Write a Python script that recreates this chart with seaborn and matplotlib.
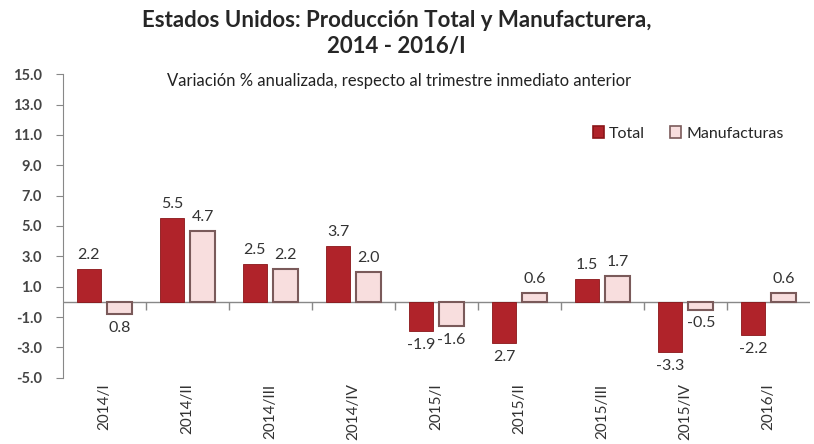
import matplotlib
matplotlib.use("Agg")
import matplotlib.pyplot as plt
import seaborn as sns
import pandas as pd

periodos = ['2014/I', '2014/II', '2014/III', '2014/IV', '2015/I',
            '2015/II', '2015/III', '2015/IV', '2016/I']
total = [2.2, 5.5, 2.5, 3.7, -1.9, -2.7, 1.5, -3.3, -2.2]
manufacturas = [-0.8, 4.7, 2.2, 2.0, -1.6, 0.6, 1.7, -0.5, 0.6]
etiq_total = ['2.2', '5.5', '2.5', '3.7', '-1.9', '2.7', '1.5', '-3.3', '-2.2']
etiq_manuf = ['0.8', '4.7', '2.2', '2.0', '-1.6', '0.6', '1.7', '-0.5', '0.6']

df = pd.DataFrame({
    'Periodo': periodos * 2,
    'Serie': ['Total'] * len(periodos) + ['Manufacturas'] * len(periodos),
    'Valor': total + manufacturas,
})

sns.set_style("white")
plt.rcParams['font.family'] = ['Lato', 'DejaVu Sans']

fig = plt.figure(figsize=(8.14, 4.44), dpi=100)
ax = fig.add_axes([0.077, 0.149, 0.918, 0.684])

sns.barplot(data=df, x='Periodo', y='Valor', hue='Serie',
            palette={'Total': '#b0232a', 'Manufacturas': '#f8dede'},
            width=0.74, gap=0.2, saturation=1, ax=ax, legend=True)

for i, p in enumerate(ax.patches[:2 * len(periodos)]):
    if i >= len(periodos):
        p.set_edgecolor('#7a5a5a')
        p.set_linewidth(1.5)
    else:
        p.set_edgecolor('#8a1518')
        p.set_linewidth(0.6)

etiquetas = etiq_total + etiq_manuf
valores = total + manufacturas
for p, txt, v in zip(ax.patches, etiquetas, valores):
    xc = p.get_x() + p.get_width() / 2
    if v >= 0:
        ax.annotate(txt, (xc, v), xytext=(0, 5), textcoords='offset points',
                    ha='center', va='bottom', fontsize=11.5, color='#333333')
    else:
        ax.annotate(txt, (xc, v), xytext=(0, -5), textcoords='offset points',
                    ha='center', va='top', fontsize=11.5, color='#333333')

ax.set_ylim(-5, 15)
ax.set_xlim(-0.5, len(periodos) - 0.5)
ax.set_yticks(range(-5, 16, 2))
ax.set_yticklabels([f"{t:.1f}" for t in range(-5, 16, 2)],
                   fontsize=10.5, fontweight='bold', color='#444444')
ax.tick_params(axis='y', direction='out', length=5, color='#888888',
               left=True, pad=10)
ax.set_xticks(range(len(periodos)))
ax.set_xticklabels(periodos, rotation=90, fontsize=11, color='#333333')
ax.tick_params(axis='x', length=0, pad=4)
ax.set_xlabel('')
ax.set_ylabel('')

for s in ['top', 'right', 'bottom']:
    ax.spines[s].set_visible(False)
ax.spines['left'].set_color('#888888')

ax.axhline(0, color='#888888', lw=1.0, zorder=0)
ax.vlines([i + 0.5 for i in range(len(periodos) - 1)], -0.5, 0,
          color='#888888', lw=1.0)

leg = ax.legend(loc='upper left', bbox_to_anchor=(0.69, 0.875), ncol=2,
                frameon=False, fontsize=11.5, handlelength=0.7,
                handleheight=0.7, columnspacing=1.6, handletextpad=0.3)
for h, ec in zip(leg.legend_handles, ['#8a1518', '#7a5a5a']):
    h.set_edgecolor(ec)
    h.set_linewidth(1.2)

fig.text(0.487, 0.953, 'Estados Unidos: Producción Total y Manufacturera,',
         ha='center', va='center', fontsize=16, fontweight='bold')
fig.text(0.487, 0.896, '2014 - 2016/I', ha='center', va='center',
         fontsize=16, fontweight='bold')
fig.text(0.49, 0.818,
         'Variación % anualizada, respecto al trimestre inmediato anterior',
         ha='center', va='center', fontsize=12, color='#222222')

fig.savefig('out.png', dpi=100)
